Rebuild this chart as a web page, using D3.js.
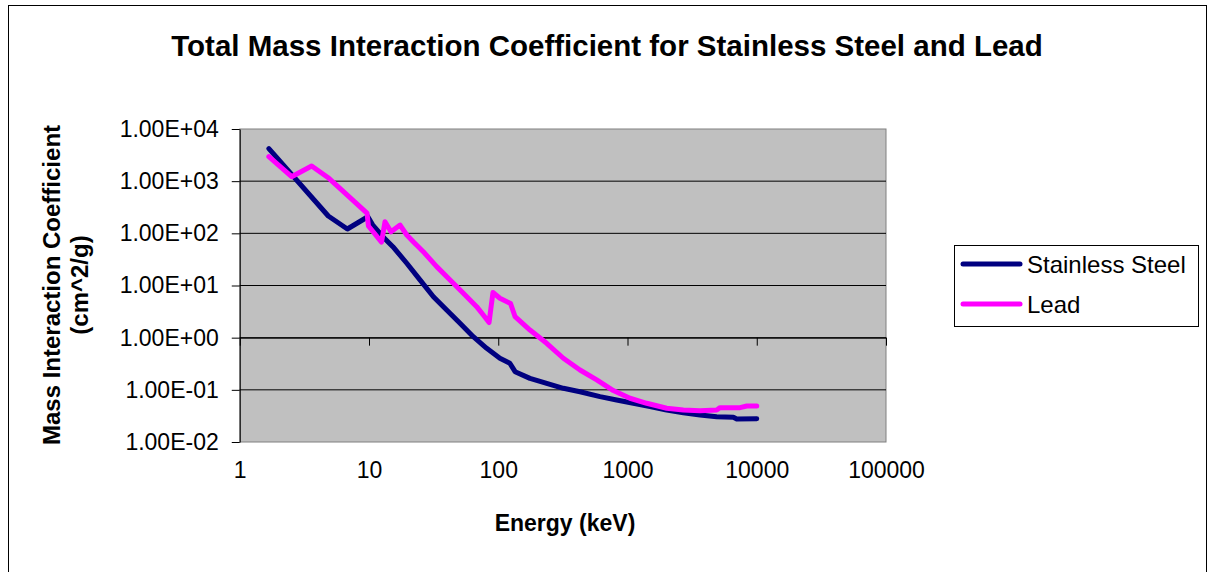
<!DOCTYPE html>
<html>
<head>
<meta charset="utf-8">
<script src="https://cdn.jsdelivr.net/npm/d3@7"></script>
<style>
  body { margin: 0; background: #fff; }
  svg { display: block; }
  text { font-family: "Liberation Sans", Arial, sans-serif; }
</style>
</head>
<body>
<svg id="chart" width="1209" height="572"></svg>
<script>
// ---- data ----
const seriesNames = ["Stainless Steel", "Lead"];
const seriesColors = ["#000080", "#FF00FF"];

const steelEnergy = [1.68, 4.84, 6.8, 9.8, 10.7, 12.8, 15.3, 19.6, 24.8, 31.5, 39.9, 50.6, 64.1, 81.4, 103, 123, 135, 176, 237, 319, 429, 613, 824, 1109, 1493, 2010, 2704, 3639, 4898, 6590, 7000, 10000];
const steelMu = [4200, 215, 121, 208, 144, 86.3, 55.5, 26.7, 12.8, 6.1, 3.40, 1.89, 1.045, 0.625, 0.403, 0.323, 0.223, 0.166, 0.133, 0.107, 0.092, 0.074, 0.0639, 0.0552, 0.0476, 0.0411, 0.0365, 0.0330, 0.0306, 0.0298, 0.0276, 0.0280];

const leadEnergy = [1.68, 2.52, 3.6, 4.9, 9.65, 9.9, 12.5, 13.3, 14.8, 17.4, 19.6, 22.0, 26.3, 33.4, 42.4, 53.7, 68.1, 76.6, 84.9, 91, 103, 124.5, 135, 176, 237, 319, 429, 578, 777, 1045, 1409, 2010, 2704, 3639, 4898, 5200, 7430, 8370, 10000];
const leadMu = [2944, 1219, 1954, 1135, 245, 138, 68, 167, 107, 144, 93, 69, 44.5, 23, 12.8, 7.1, 3.93, 2.72, 1.95, 7.35, 5.69, 4.52, 2.52, 1.40, 0.78, 0.403, 0.240, 0.155, 0.097, 0.069, 0.0552, 0.0443, 0.0411, 0.0398, 0.0411, 0.0455, 0.0455, 0.049, 0.049];

const xTickValues = [1, 10, 100, 1000, 10000, 100000];
const xTickLabels = ["1", "10", "100", "1000", "10000", "100000"];
const yTickValues = [0.01, 0.1, 1, 10, 100, 1000, 10000];
const yTickLabels = ["1.00E-02", "1.00E-01", "1.00E+00", "1.00E+01", "1.00E+02", "1.00E+03", "1.00E+04"];

const titleText = "Total Mass Interaction Coefficient for Stainless Steel and Lead";
const xTitle = "Energy (keV)";
const yTitleLines = ["Mass Interaction Coefficient", "(cm^2/g)"];

// ---- layout ----
const svg = d3.select("#chart");
const plot = { left: 239.75, right: 886, top: 129, bottom: 442 };

// outer frame
svg.append("rect")
  .attr("x", 8.5).attr("y", 5.5)
  .attr("width", 1198).attr("height", 620)
  .attr("fill", "#fff").attr("stroke", "#000").attr("stroke-width", 1);

const x = d3.scaleLog().domain([1, 100000]).range([plot.left, plot.right]);
const y = d3.scaleLog().domain([0.01, 10000]).range([plot.bottom, plot.top]);

// plot area
svg.append("rect")
  .attr("x", plot.left).attr("y", plot.top)
  .attr("width", plot.right - plot.left).attr("height", plot.bottom - plot.top)
  .attr("fill", "#C0C0C0").attr("stroke", "#808080").attr("stroke-width", 1);

// horizontal gridlines
svg.append("g").selectAll("line")
  .data(yTickValues.slice(1, -1))
  .join("line")
  .attr("x1", plot.left).attr("x2", plot.right)
  .attr("y1", d => y(d)).attr("y2", d => y(d))
  .attr("stroke", "#000").attr("stroke-width", 1);

// y axis
const yAxis = d3.axisLeft(y)
  .tickValues(yTickValues)
  .tickSize(8)
  .tickSizeOuter(0)
  .tickFormat((d, i) => yTickLabels[i]);
const gy = svg.append("g").attr("transform", `translate(${plot.left},0)`).call(yAxis);
gy.select(".domain").attr("stroke", "#000");
gy.selectAll(".tick line").attr("stroke", "#000");
gy.selectAll(".tick text")
  .attr("x", -21)
  .attr("font-size", 23)
  .attr("fill", "#000")
  .style("font-family", '"Liberation Sans", Arial, sans-serif');

// x axis (crosses at y = 1)
const xAxis = d3.axisBottom(x)
  .tickValues(xTickValues)
  .tickSize(8)
  .tickSizeOuter(0)
  .tickFormat((d, i) => xTickLabels[i]);
const gx = svg.append("g").attr("transform", `translate(0,${y(1)})`).call(xAxis);
gx.select(".domain").attr("stroke", "#000");
gx.selectAll(".tick line").attr("stroke", "#000");
gx.selectAll(".tick text")
  .attr("y", plot.bottom - y(1) + 36)
  .attr("dy", 0)
  .attr("font-size", 23)
  .attr("fill", "#000")
  .style("font-family", '"Liberation Sans", Arial, sans-serif');

// series lines
const series = [
  { name: seriesNames[0], color: seriesColors[0], pts: steelEnergy.map((e, i) => [e, steelMu[i]]) },
  { name: seriesNames[1], color: seriesColors[1], pts: leadEnergy.map((e, i) => [e, leadMu[i]]) }
];
const line = d3.line().x(d => x(d[0])).y(d => y(d[1]));
svg.append("g").selectAll("path")
  .data(series)
  .join("path")
  .attr("d", d => line(d.pts))
  .attr("fill", "none")
  .attr("stroke", d => d.color)
  .attr("stroke-width", 5)
  .attr("stroke-linejoin", "round")
  .attr("stroke-linecap", "round");

// title
svg.append("text")
  .attr("x", 607).attr("y", 56)
  .attr("text-anchor", "middle")
  .attr("font-size", 29.5).attr("font-weight", "bold")
  .text(titleText);

// x title
svg.append("text")
  .attr("x", 565).attr("y", 531)
  .attr("text-anchor", "middle")
  .attr("font-size", 23).attr("font-weight", "bold")
  .text(xTitle);

// y title
const yt = svg.append("text")
  .attr("transform", `translate(0,285) rotate(-90)`)
  .attr("text-anchor", "middle")
  .attr("font-size", 24).attr("font-weight", "bold");
yt.selectAll("tspan").data(yTitleLines).join("tspan")
  .attr("x", 0)
  .attr("y", (d, i) => i === 0 ? 60 : 88)
  .text(d => d);

// legend
const lg = svg.append("g");
lg.append("rect")
  .attr("x", 954.5).attr("y", 245.5).attr("width", 244).attr("height", 81)
  .attr("fill", "#fff").attr("stroke", "#000").attr("stroke-width", 1);
const items = lg.selectAll("g.item").data(series).join("g").attr("class", "item")
  .attr("transform", (d, i) => `translate(0,${264 + i * 40})`);
items.append("line")
  .attr("x1", 963).attr("x2", 1020).attr("y1", 0).attr("y2", 0)
  .attr("stroke", d => d.color).attr("stroke-width", 5).attr("stroke-linecap", "round");
items.append("text")
  .attr("x", 1027).attr("y", 9)
  .attr("font-size", 24)
  .attr("fill", "#000")
  .text(d => d.name);
</script>
</body>
</html>
